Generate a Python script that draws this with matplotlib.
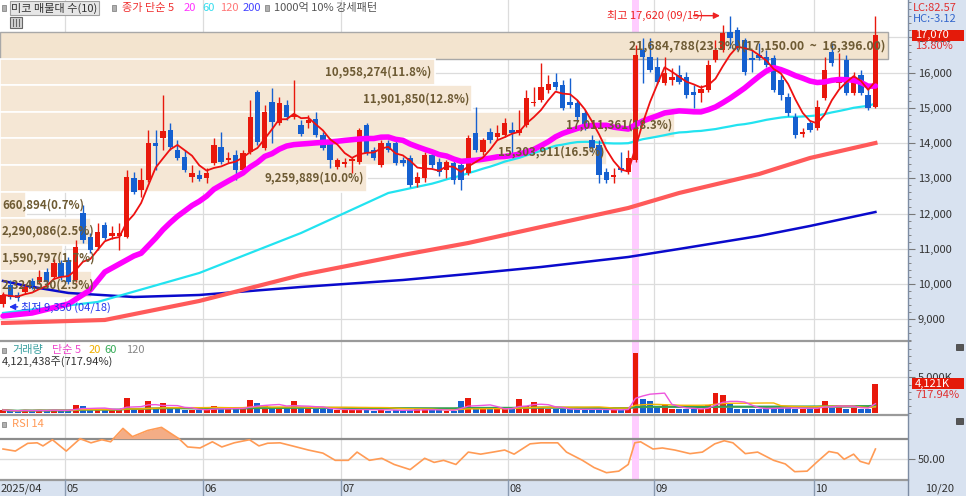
import numpy as np
import pandas as pd
import matplotlib
matplotlib.use('Agg')
import matplotlib.pyplot as plt
import matplotlib.transforms as mtransforms
from matplotlib.patches import Rectangle
from matplotlib.lines import Line2D
from matplotlib.ticker import MultipleLocator, FuncFormatter, FixedLocator

plt.rcParams['font.family'] = ['Noto Sans CJK KR', 'DejaVu Sans']

# ===================== 데이터 (2025/04/18 ~ 10/20, 일봉) =====================
opens = [9430, 9970, 9690, 9770, 10080, 10060, 10340, 10200, 10600, 10680,
         10110, 12020, 11330, 11050, 11680, 11360, 11360, 11330, 13010, 12670,
         12950, 14000, 14150, 14370, 13800, 13610, 13040, 13100, 13010, 13440,
         13890, 13520, 13660, 13240, 13750, 15450, 13860, 15170, 14570, 15080,
         14740, 14520, 14570, 14690, 14230, 14000, 13320, 13410, 13490, 13460,
         14520, 13800, 13380, 14000, 14000, 13520, 13580, 12870, 13010, 13660,
         13460, 13240, 13440, 13380, 13150, 14290, 13750, 14320, 14170, 14230,
         14370, 14290, 14520, 15140, 15230, 15510, 15740, 15650, 15170, 15140,
         14860, 14090, 13950, 13180, 13040, 13290, 13180, 13520, 16650, 16450,
         16160, 15710, 15790, 15940, 15880, 15450, 15420, 15510, 16360, 16650,
         17160, 17210, 16930, 16420, 16500, 16450, 16420, 15790, 15310, 14740,
         14260, 14570, 14430, 15280, 16590, 15710, 16360, 15420, 15940, 15370,
         15030]
highs = [9770, 10110, 9770, 10000, 10170, 10400, 10450, 10710, 10680, 10770,
         11250, 12240, 11450, 11730, 11760, 11650, 11730, 13240, 13180, 13290,
         14370, 14370, 15370, 14570, 14090, 13800, 13380, 13240, 13290, 14150,
         14320, 13750, 13800, 13800, 15230, 15510, 15080, 15570, 15310, 15230,
         15790, 14660, 14800, 14880, 14320, 14150, 13580, 13580, 13610, 14430,
         14570, 13890, 14090, 14090, 14090, 13610, 13660, 13180, 13750, 13800,
         13580, 13520, 13520, 13460, 14230, 15030, 14150, 14430, 14520, 14710,
         14600, 14940, 15510, 15590, 16280, 15940, 15990, 15790, 15850, 15230,
         14940, 14230, 14090, 13290, 13290, 13750, 13800, 16790, 16990, 16990,
         16450, 16450, 16130, 16220, 16020, 15650, 15650, 16360, 16930, 17360,
         17620, 17300, 16990, 16650, 16840, 16650, 16500, 15940, 15420, 14860,
         14430, 14660, 15230, 16450, 16840, 16560, 16500, 16020, 16080, 15650,
         17610]
lows = [9350, 9570, 9520, 9720, 9860, 10000, 10000, 10140, 10110, 10000,
        10060, 11160, 10880, 10970, 11250, 11280, 10970, 11310, 12550, 12470,
        12900, 13240, 13800, 13800, 13520, 13180, 12900, 12920, 12870, 13380,
        13410, 13440, 12950, 13180, 13690, 13950, 13800, 14000, 14520, 14660,
        14690, 14200, 14430, 14170, 13800, 13290, 13270, 13320, 13150, 13410,
        13660, 13520, 13320, 13750, 13380, 13350, 12750, 12750, 12900, 13290,
        13070, 13010, 12840, 12670, 13100, 13750, 13660, 14000, 14090, 14170,
        13610, 14230, 14460, 15060, 15170, 15420, 15510, 14940, 15000, 14600,
        14370, 13750, 12870, 12870, 12870, 13180, 13120, 13460, 15710, 16020,
        15680, 15650, 15650, 15680, 15280, 15000, 15170, 15450, 16300, 16590,
        16700, 16650, 15940, 16020, 16360, 16160, 15450, 15230, 14770, 14150,
        14170, 14320, 14370, 15230, 16190, 15570, 15370, 15370, 15370, 14940,
        15000]
closes = [9690, 9630, 9600, 9910, 9940, 10200, 10060, 10600, 10200, 10060,
          11050, 11250, 10970, 11480, 11310, 11450, 11450, 13040, 12610, 12950,
          14000, 13920, 14350, 13890, 13580, 13240, 13150, 12980, 13150, 13950,
          13460, 13580, 13240, 13720, 14740, 14030, 14880, 14600, 15140, 14740,
          14800, 14260, 14660, 14230, 13860, 13520, 13520, 13460, 13550, 14370,
          13720, 13580, 14000, 13800, 13440, 13440, 12810, 13040, 13660, 13380,
          13180, 13460, 12950, 12950, 14150, 13800, 14090, 14090, 14290, 14570,
          14290, 14370, 15280, 15170, 15590, 15680, 15590, 15000, 15080, 14740,
          14430, 13860, 13100, 12950, 13100, 13240, 13580, 16500, 16450, 16080,
          15740, 15990, 15880, 15740, 15370, 15370, 15540, 16220, 16650, 17130,
          16990, 16700, 16020, 16360, 16420, 16220, 15510, 15370, 14860, 14230,
          14320, 14370, 15030, 16080, 16280, 15850, 15420, 15880, 15420, 15000,
          17070]
volumes_k = [460, 320, 280, 510, 320, 510, 320, 510, 370, 370,
             1110, 970, 555, 555, 460, 420, 650, 2130, 790, 650,
             1670, 790, 1480, 830, 555, 460, 460, 420, 555, 1020,
             650, 555, 555, 650, 1850, 1390, 1020, 930, 930, 790,
             1670, 790, 790, 555, 650, 555, 460, 460, 460, 650,
             555, 370, 460, 370, 460, 420, 460, 555, 555, 460,
             420, 370, 320, 1760, 2130, 650, 650, 650, 555, 555,
             880, 2040, 1020, 1570, 790, 555, 555, 555, 555, 555,
             555, 555, 555, 420, 460, 420, 790, 8330, 2040, 1710,
             790, 1160, 555, 555, 650, 555, 650, 1110, 2780, 2500,
             1250, 650, 650, 650, 650, 650, 790, 790, 790, 650,
             555, 650, 790, 1760, 790, 1110, 555, 790, 650, 574,
             4121.438]

# 이동평균 (초기 구간은 차트에서 읽은 값)
ma20_early = [(0, 9090), (4, 9176), (9, 9432), (12, 9829), (14, 10340), (18, 10795)]
ma60_early = [(0, 9176), (13, 9488), (27, 10312), (41, 11448), (53, 12584)]
ma120_pts = [(0, 8892), (14, 8977), (27, 9517), (41, 10255), (55, 10823), (64, 11164),
             (74, 11618), (86, 12158), (93, 12584), (104, 13123), (111, 13578), (120, 14004)]
ma200_pts = [(0, 10085), (3, 9954), (9, 9744), (18, 9630), (27, 9687), (41, 9914),
             (55, 10113), (64, 10283), (74, 10482), (86, 10766), (93, 10994),
             (104, 11363), (111, 11647), (120, 12044)]

# RSI 14
rsi_pts = [(0, 60), (1.7, 58), (3.4, 65.5), (4.7, 66), (5.5, 63), (6.8, 69), (8.7, 58),
           (10.6, 70), (12.1, 66), (13.6, 69), (14.8, 67), (16.5, 80), (17.8, 72),
           (19.9, 78), (21.8, 81), (24.2, 70), (25.4, 62), (27.1, 61), (28.8, 67),
           (30.1, 62), (31.8, 66), (33.9, 69), (35.2, 63), (36.4, 65.6), (38.1, 66),
           (39.8, 63), (42, 59), (44, 56), (45.7, 49), (47.5, 49), (48.7, 57),
           (50.4, 49), (52.1, 51), (53.8, 45), (56, 40), (58, 51), (59.3, 47),
           (60.6, 49), (62.3, 45), (64, 57), (65.7, 55), (67.4, 57), (69, 59),
           (70.3, 55), (72.5, 65), (74, 66), (76.3, 66), (77.5, 57), (79.7, 49),
           (81.3, 42), (83, 37), (84.7, 38.5), (86, 45), (86.9, 66), (87.7, 67),
           (89.4, 60), (90.7, 61), (92.4, 59), (94.5, 55.5), (96.2, 57), (97.9, 65),
           (99.2, 68), (100.4, 66), (102.1, 55.5), (103.8, 57), (106, 49),
           (107.6, 45.5), (108.9, 38), (110.6, 38.5), (111.9, 47), (113.6, 57.6),
           (114.8, 56), (115.7, 50), (117, 55), (117.9, 48), (119.1, 45.5), (120, 60)]

# 매물대 (10개 구간)
band_top_range = (16396.00, 17150.00)
band_volumes = [21684788, 10958274, 11901850, 17011361, 15303911,
                9259889, 660894, 2290086, 1590797, 2324530]
band_pcts = [23.3, 11.8, 12.8, 18.3, 16.5, 10.0, 0.7, 2.5, 1.7, 2.5]

month_starts = [0, 9, 28, 47, 70, 90, 112]
month_labels = ['2025/04', '05', '06', '07', '08', '09', '10']
low_label = '최저 9,350 (04/18)'
high_label = '최고 17,620 (09/15)'
last_date = '10/20'
last_volume = 4121438
volume_ratio = 717.94

# ===================== 그림 =====================
W, H = 966, 496
RIGHT = 908
XL, XR = -0.413, 124.48
PPI = RIGHT / (XR - XL)  # 봉 하나당 픽셀

RED = '#e8180c'
BLUE = '#1560d0'
PANEL = '#d8e2f0'
GRID = '#dcdcdc'

fig = plt.figure(figsize=(W / 100, H / 100), dpi=100)
fig.patch.set_facecolor('white')


def fax(top, bottom):
    return fig.add_axes([0, 1 - bottom / H, RIGHT / W, (bottom - top) / H])


def put(px, py, s, **kw):
    kw.setdefault('fontsize', 8)
    kw.setdefault('va', 'center')
    kw.setdefault('ha', 'left')
    return fig.text(px / W, 1 - py / H, s, **kw)


def box(px, py, w, h, **kw):
    kw.setdefault('zorder', 2)
    r = Rectangle((px / W, 1 - (py + h) / H), w / W, h / H, transform=fig.transFigure, **kw)
    fig.add_artist(r)
    return r


ax = fax(0, 341)
ax_v = fax(341, 415)
ax_r = fax(415, 479.5)

n = len(closes)
idx = np.arange(n)
o = np.array(opens, float)
c = np.array(closes, float)
hi = np.array(highs, float)
lo = np.array(lows, float)
up = c >= o
cols = np.where(up, RED, BLUE)

for a in (ax, ax_v, ax_r):
    a.set_xlim(XL, XR)
    for s in a.spines.values():
        s.set_visible(False)
    a.tick_params(axis='x', bottom=False, labelbottom=False)
    a.yaxis.set_ticks_position('right')
    a.tick_params(axis='y', which='major', length=5, color='#777777', labelsize=8,
                  labelcolor='#333333', pad=2)
    a.tick_params(axis='y', which='minor', length=2, color='#777777')
    for m in month_starts[1:]:
        a.axvline(m - 0.5, color=GRID, lw=0.9, zorder=0)
    a.axvspan(86.5, 87.5, color='#ffccff', lw=0, zorder=0.5)
    a.set_axisbelow(True)

# ---- 가격 패널 ----
ax.set_ylim(8380, 18065)
ax.yaxis.set_major_locator(FixedLocator(range(9000, 17001, 1000)))
ax.yaxis.set_minor_locator(MultipleLocator(200))
ax.yaxis.set_major_formatter(FuncFormatter(lambda v, p: f'{int(v):,}'))
ax.grid(axis='y', color=GRID, lw=0.9, zorder=0)

step = band_top_range[1] - band_top_range[0]
tot = sum(band_volumes)
for k, (bv, bp) in enumerate(zip(band_volumes, band_pcts)):
    b_hi = band_top_range[1] - k * step
    b_lo = b_hi - step
    wpx = bv / tot * 100 * 36.9
    fsz = 8.3
    if k == 0:
        wpx = 888
        ax.add_patch(Rectangle((XL, b_lo), wpx / PPI, step, fc='#f3e4cf', ec='#a8a8a8',
                               lw=1.0, zorder=1))
        lab = f'{bv:,}({bp:.1f}%)({b_hi:,.2f}  ~  {b_lo:,.2f})'
        fsz = 8.8
    else:
        ax.add_patch(Rectangle((XL, b_lo), wpx / PPI, step, fc='#f5e7d5', ec='white',
                               lw=1.2, zorder=1))
        lab = f'{bv:,}({bp:.1f}%)'
    ymid = (b_lo + b_hi) / 2
    if wpx < 100:
        ax.text(XL + 2 / PPI, ymid, lab, ha='left', va='center', fontsize=fsz,
                color='#6e5b34', fontweight='bold', zorder=7)
    else:
        ax.text(XL + (wpx - 3) / PPI, ymid, lab, ha='right', va='center', fontsize=fsz,
                color='#6e5b34', fontweight='bold', zorder=7)

# 이동평균선
close_s = pd.Series(c)
ma5 = close_s.rolling(5, min_periods=1).mean()
ma20 = close_s.rolling(20).mean()
ma60 = close_s.rolling(60).mean()
x20 = [p[0] for p in ma20_early] + list(idx[19:])
y20 = [p[1] for p in ma20_early] + list(ma20[19:])
x60 = [p[0] for p in ma60_early] + list(idx[59:])
y60 = [p[1] for p in ma60_early] + list(ma60[59:])
ax.plot([p[0] for p in ma200_pts], [p[1] for p in ma200_pts], color='#0a0acc', lw=1.8, zorder=3)
ax.plot([p[0] for p in ma120_pts], [p[1] for p in ma120_pts], color='#ff5a5a', lw=3, zorder=3)
ax.plot(x60, y60, color='#22e3f0', lw=1.6, zorder=3)

# 캔들
ax.vlines(idx, lo, hi, colors=cols, lw=1.0, zorder=5)
ax.bar(idx, np.maximum(np.abs(c - o), 35), bottom=np.minimum(o, c), width=0.74,
       color=cols, lw=0, zorder=5)

ax.plot(x20, y20, color='#ff00ff', lw=4, zorder=6, solid_capstyle='round')
ax.plot(idx, ma5, color='#ee1111', lw=1.3, zorder=6)

# 최고 / 최저 표시
ih = int(np.argmax(hi))
ax.annotate('', xy=(ih - 1.0, hi[ih]), xytext=(ih - 5.4, hi[ih]),
            arrowprops=dict(arrowstyle='-|>', color='#ee2222', lw=1.0, mutation_scale=9),
            zorder=8)
ax.text(ih - 16.9, hi[ih], high_label, color='#ee2222', fontsize=8, ha='left', va='center',
        zorder=8)
il = int(np.argmin(lo))
ax.annotate('', xy=(il + 0.45, lo[il]), xytext=(il + 2.4, lo[il]),
            arrowprops=dict(arrowstyle='-|>', color='#2233ee', lw=1.0, mutation_scale=9),
            zorder=8)
ax.text(il + 2.45, lo[il], low_label, color='#2233ee', fontsize=8, ha='left', va='center',
        zorder=8)

# ---- 거래량 패널 ----
v = np.array(volumes_k, float)
ax_v.set_ylim(-236, 10050)
ax_v.yaxis.set_major_locator(FixedLocator([5000]))
ax_v.yaxis.set_major_formatter(FuncFormatter(lambda val, p: f'{int(val):,}K'))
ax_v.yaxis.set_minor_locator(MultipleLocator(1000))
ax_v.grid(axis='y', color=GRID, lw=0.9, zorder=0)
ax_v.bar(idx, v, width=0.82, color=cols, lw=0, zorder=3)
vs = pd.Series(v)
ax_v.plot(idx, vs.rolling(120, min_periods=1).mean(), color='#999999', lw=1, zorder=4)
ax_v.plot(idx, vs.rolling(60, min_periods=1).mean(), color='#33a050', lw=1.5, zorder=4)
ax_v.plot(idx, vs.rolling(20, min_periods=1).mean(), color='#f5b400', lw=1, zorder=4)
ax_v.plot(idx, vs.rolling(5, min_periods=1).mean(), color='#ee55dd', lw=1, zorder=4)

# ---- RSI 패널 ----
rx = np.array([p[0] for p in rsi_pts])
ry = np.array([p[1] for p in rsi_pts])
ax_r.set_ylim(30.4, 93.0)
ax_r.yaxis.set_major_locator(FixedLocator([50]))
ax_r.yaxis.set_major_formatter(FuncFormatter(lambda val, p: f'{val:.2f}'))
ax_r.axhline(50, color=GRID, lw=1.0, zorder=0)
ax_r.axhline(70, color='#8c8c8c', lw=1.6, zorder=1)
ax_r.fill_between(rx, ry, 70, where=ry > 70, interpolate=True, color='#f4ad86', lw=0, zorder=2)
ax_r.plot(rx, ry, color='#ff9b55', lw=1.2, zorder=3)

# ---- 바깥 틀 ----
box(RIGHT, 0, W - RIGHT, H, fc=PANEL, ec='none', zorder=-1)
box(0, 479.5, W, H - 479.5, fc=PANEL, ec='none', zorder=-1)
for yy in (341, 415, 479.5):
    fig.add_artist(Line2D([0, RIGHT / W], [1 - yy / H] * 2, color='#9a9a9a', lw=1.6,
                          transform=fig.transFigure))
fig.add_artist(Line2D([RIGHT / W] * 2, [0, 1], color='#7d8ca3', lw=1.0,
                      transform=fig.transFigure))

# 날짜 축
btr = mtransforms.blended_transform_factory(ax_r.transData, fig.transFigure)
for m, lab in zip(month_starts, month_labels):
    xm = m - 0.5
    if m > 0:
        fig.add_artist(Line2D([xm, xm], [0, 1 - 479.5 / H], color='#8a9ab0', lw=1.0,
                              transform=btr))
    fig.text(max(xm + 0.2, XL + 1 / PPI), 1 - 489 / H, lab, transform=btr, fontsize=8,
             color='#333333', va='center', ha='left')
put(925, 489, last_date, color='#333333')

# 범례 (상단)
def bullet(px, py):
    box(px, py - 2.5, 4, 5, fc='#b0b0b0', ec='#888888', lw=0.6, zorder=4)

bullet(2, 8)
put(11, 8, '미코 매물대 수(10)', color='#333333',
    bbox=dict(boxstyle='square,pad=0.12', fc='#e6e6e6', ec='#a0a0a0', lw=0.8))
bullet(112, 8)
put(122, 8, '종가 단순 5', color='#f03030')
put(184, 8, '20', color='#ff33ff')
put(202, 8, '60', color='#33ddee')
put(220, 8, '120', color='#ff7777')
put(243, 8, '200', color='#4444ff')
bullet(265, 8)
put(274, 8, '1000억 10% 강세패턴', color='#555555')
box(10, 17, 12, 11, fc='#d4d4d4', ec='#666666', lw=0.8, zorder=4)
for xx in (13, 16, 19):
    fig.add_artist(Line2D([xx / W] * 2, [1 - 19 / H, 1 - 26 / H], color='#666666', lw=0.8,
                          transform=fig.transFigure, zorder=5))

bullet(2, 350)
put(12, 350, '거래량', color='#3aa0a0')
put(52, 350, '단순 5', color='#ee44cc')
put(89, 350, '20', color='#f0b000')
put(104, 350, '60', color='#33aa55')
put(126, 350, '120', color='#888888')
put(2, 362, f'{last_volume:,}주({volume_ratio:.2f}%)', color='#333333')

bullet(2, 424)
put(12, 424, 'RSI 14', color='#ff9955')

# 오른쪽 축 표시
put(913, 8, 'LC:82.57', color='#e03030')
put(913, 19, 'HC:-3.12', color='#3366cc')
chg = (c[-1] / c[-2] - 1) * 100
ptr = mtransforms.blended_transform_factory(fig.transFigure, ax.transData)
ax_h = 11 * (18065 - 8380) / 341
fig.add_artist(Rectangle((912 / W, c[-1] - ax_h / 2), 52 / W, ax_h, fc='#e41a0a', ec='none',
                         transform=ptr, zorder=4))
fig.text(915 / W, c[-1], f'{int(c[-1]):,}', transform=ptr, color='white', fontsize=8,
         va='center', zorder=5)
fig.text(915 / W, c[-1] - ax_h * 1.0, f'{chg:.2f}%', transform=ptr, color='#e03030',
         fontsize=8, va='center', zorder=5)
vtr = mtransforms.blended_transform_factory(fig.transFigure, ax_v.transData)
vh = 11 * 10286 / 74
fig.add_artist(Rectangle((912 / W, v[-1] - vh / 2), 52 / W, vh, fc='#e41a0a', ec='none',
                         transform=vtr, zorder=4))
fig.text(915 / W, v[-1], f'{int(round(v[-1])):,}K', transform=vtr, color='white',
         fontsize=8, va='center', zorder=5)
fig.text(915 / W, v[-1] - vh * 1.05, f'{volume_ratio:.2f}%', transform=vtr,
         color='#e03030', fontsize=8, va='center', zorder=5)
box(956, 344, 7, 6, fc='#555555', ec='#333333', lw=0.5, zorder=4)
box(956, 418, 7, 6, fc='#555555', ec='#333333', lw=0.5, zorder=4)

fig.savefig('out.png', dpi=100, facecolor='white')
